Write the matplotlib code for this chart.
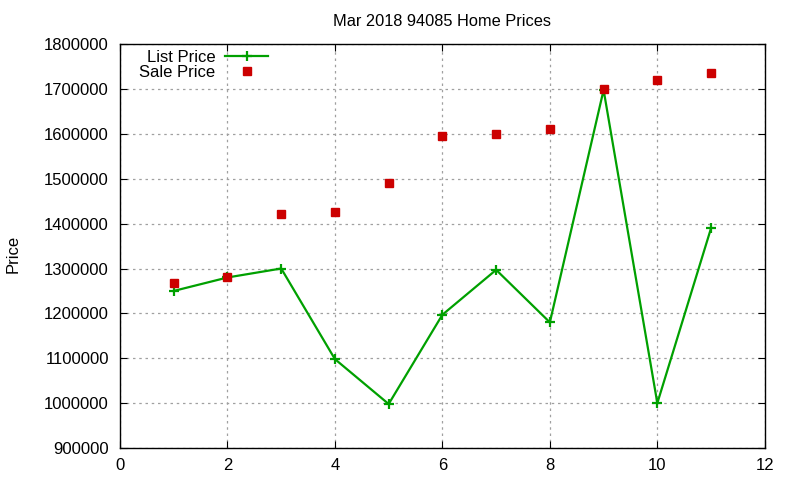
import matplotlib
matplotlib.use("Agg")
import matplotlib.pyplot as plt

months = [1, 2, 3, 4, 5, 6, 7, 8, 9, 10, 11]
list_price = [1250000, 1280000, 1300000, 1098000, 998000, 1197000,
              1297000, 1180000, 1698000, 1000000, 1390000]
sale_price = [1268000, 1281000, 1422000, 1427000, 1491000, 1595000,
              1599000, 1610000, 1700000, 1720000, 1735000]

plt.rcParams.update({"font.family": "Liberation Sans", "font.size": 12})

fig = plt.figure(figsize=(8, 4.8), dpi=100)
ax = fig.add_axes([0.15, 0.0667, 0.806, 0.8413])

ax.plot(months, list_price, color="#00a000", lw=1.6, marker="+", ms=7,
        mew=1.6, label="List Price")
ax.plot(months, sale_price, ls="none", color="#cc0000", marker="s", ms=6,
        label="Sale Price")

ax.set_xlim(0, 12)
ax.set_ylim(900000, 1800000)
ax.set_xticks(range(0, 13, 2))
ax.set_yticks(range(900000, 1800001, 100000))
ax.ticklabel_format(axis="y", style="plain", useOffset=False)
ax.grid(True, color="#a0a0a0", ls=(0, (2, 3)), lw=0.9)
ax.tick_params(direction="in", top=True, right=True, length=5, labelsize=12)
ax.tick_params(axis="x", pad=7)
ax.tick_params(axis="y", pad=8)
for s in ax.spines.values():
    s.set_linewidth(1.0)

ax.set_title("Mar 2018 94085 Home Prices", fontsize=11.8, pad=13)
fig.text(0.016, 0.47, "Price", rotation=90, ha="center", va="center", fontsize=12)

leg = ax.legend(loc="upper left", bbox_to_anchor=(0.014, 1.01), frameon=False,
                markerfirst=False, handlelength=2.6, fontsize=12,
                labelspacing=0.0, handletextpad=0.6, borderaxespad=0.2)
for t in leg.get_texts():
    t.set_ha("right")
leg._legend_box.align = "right"

fig.savefig("out.png", dpi=100)
